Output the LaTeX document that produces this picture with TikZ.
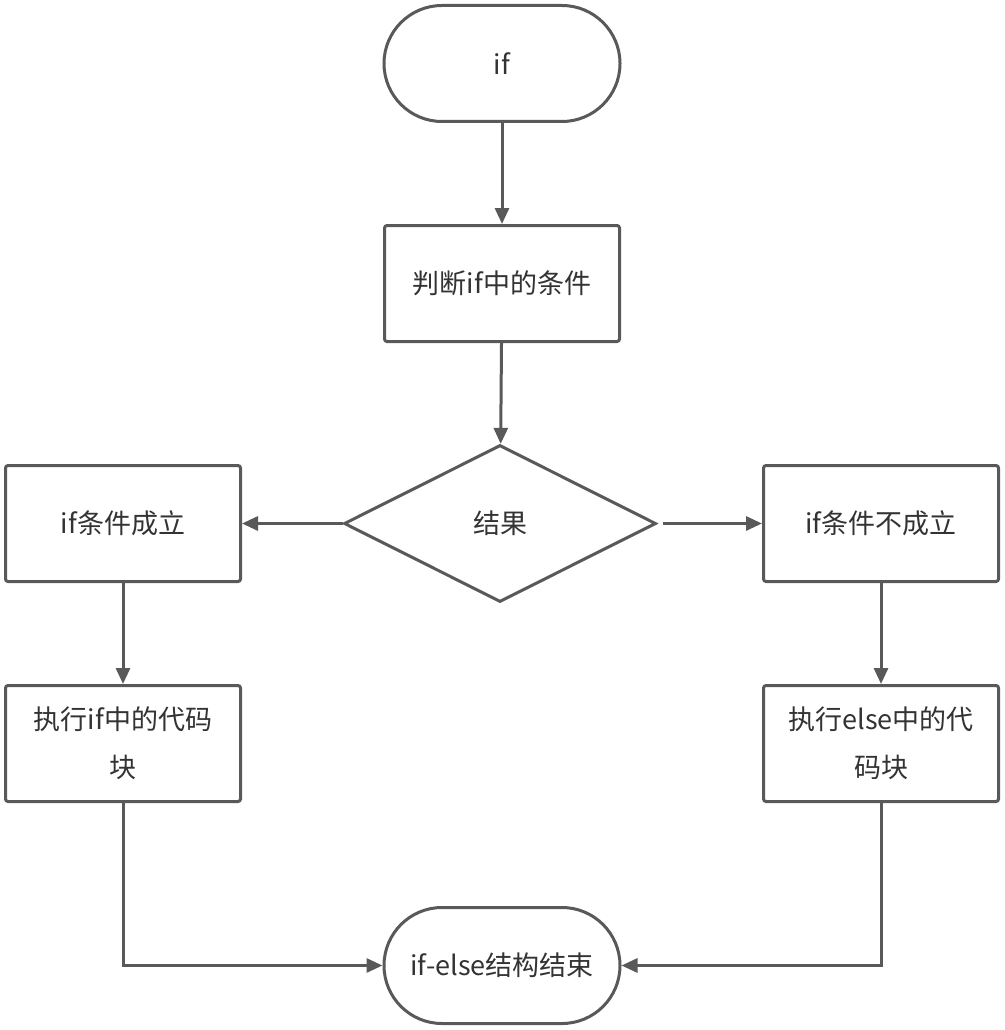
\documentclass[tikz,border=0pt]{standalone}
\usepackage{fontspec}
\setmainfont{Noto Sans CJK SC}
\usetikzlibrary{shapes.geometric,arrows.meta}
\definecolor{ln}{HTML}{595959}
\definecolor{tx}{HTML}{333333}
\begin{document}
\begin{tikzpicture}[x=1pt,y=-1pt,
  every node/.style={font=\fontsize{27}{48}\selectfont, text=tx},
  term/.style={draw=ln, line width=3pt, fill=white, rectangle, rounded corners=58pt, minimum width=236pt, minimum height=116pt, inner sep=0pt},
  procbox/.style={draw=ln, line width=3pt, fill=white, rectangle, rounded corners=2.5pt, minimum width=235pt, minimum height=116pt, inner sep=0pt, align=center},
  decide/.style={draw=ln, line width=3pt, fill=white, diamond, aspect=1.97, minimum width=312pt, minimum height=157pt, inner sep=0pt},
  conn/.style={draw=ln, line width=3pt, -{Triangle[length=16pt,width=14pt]}}
]
\useasboundingbox (0,0) rectangle (1004,1030);
\node[term] (start) at (502,63.5) {if};
\node[procbox] (judge) at (502,283.5) {判断if中的条件};
\node[decide] (res) at (500,523.5) {结果};
\node[procbox] (yes) at (123,523.5) {if条件成立};
\node[procbox] (no) at (881,523.5) {if条件不成立};
\node[procbox] (doif) at (123,743.5) {执行if中的代码\\块};
\node[procbox] (doelse) at (881,743.5) {执行else中的代\\码块};
\node[term] (fin) at (502,965.5) {if-else结构结束};
\draw[conn] (start) -- (judge);
\draw[conn] (judge) -- (res);
\draw[conn] (res.west) -- (yes.east);
\draw[conn, shorten <=5pt] (res.east) -- (no.west);
\draw[conn] (yes) -- (doif);
\draw[conn] (no) -- (doelse);
\draw[conn] (doif.south) |- (fin.west);
\draw[conn] (doelse.south) |- (fin.east);
\end{tikzpicture}
\end{document}
